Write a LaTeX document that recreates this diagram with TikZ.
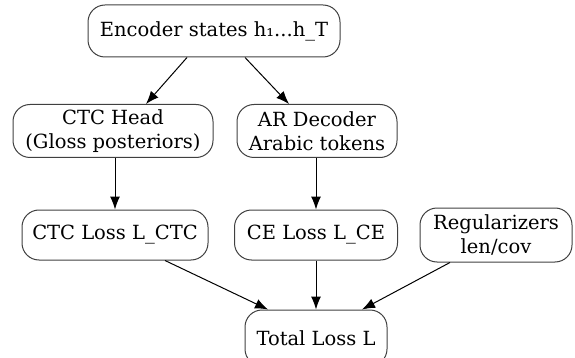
\documentclass[tikz,border=0pt]{standalone}
\usepackage{fontspec}
\setmainfont{DejaVu Serif}
\usetikzlibrary{arrows.meta}
\begin{document}
\begin{tikzpicture}[x=1pt,y=-1pt,
  box/.style={draw=black!75, line width=1pt, rounded corners=17pt, align=center,
    font=\fontsize{19.5}{24.5}\selectfont, inner sep=0pt},
  arr/.style={-{Latex[length=13pt,width=10pt]}, line width=1pt}]
\useasboundingbox (0,0) rectangle (575,358);
\node[box, minimum width=252pt, minimum height=52pt] (enc) at (214,31) {Encoder states h₁...h\_T};
\node[box, minimum width=200pt, minimum height=53pt] (ctch) at (113,131) {CTC Head\\(Gloss posteriors)};
\node[box, minimum width=160pt, minimum height=53pt] (ard) at (317,131) {AR Decoder\\Arabic tokens};
\node[box, minimum width=186pt, minimum height=50pt] (ctcl) at (115,235) {CTC Loss L\_CTC};
\node[box, minimum width=163pt, minimum height=50pt] (cel) at (316,235) {CE Loss L\_CE};
\node[box, minimum width=152pt, minimum height=54pt] (reg) at (496,235) {Regularizers\\len/cov};
\node[box, minimum width=142pt, minimum height=56pt] (tot) at (316,338) {Total Loss L};
\draw[arr] (enc.south -| 187,0) -- (ctch.north -| 146,0);
\draw[arr] (enc.south -| 245,0) -- (ard.north -| 289,0);
\draw[arr] (ctch.south -| ctcl) -- (ctcl);
\draw[arr] (ard.south -| cel) -- (cel);
\draw[arr] (ctcl.south -| 165,0) -- (tot.north -| 268,0);
\draw[arr] (cel) -- (tot);
\draw[arr] (reg.south -| 450,0) -- (tot.north -| 362,0);
\end{tikzpicture}
\end{document}
